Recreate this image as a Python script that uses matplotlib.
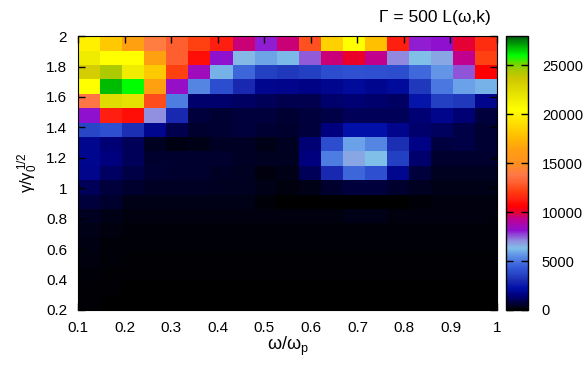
import matplotlib
matplotlib.use('Agg')
import matplotlib.pyplot as plt
import numpy as np
from matplotlib.colors import LinearSegmentedColormap, Normalize

plt.rcParams['font.family'] = ['Liberation Sans', 'DejaVu Sans']
plt.rcParams['mathtext.fontset'] = 'custom'
plt.rcParams['mathtext.rm'] = 'Liberation Sans'
plt.rcParams['mathtext.it'] = 'Liberation Sans'
plt.rcParams['mathtext.default'] = 'regular'

# grid: 19 x 19 cells spanning omega/omega_p in [0.1, 1], gamma in [0.2, 2]
x_edges = np.linspace(0.1, 1.0, 20)
y_edges = np.linspace(0.2, 2.0, 20)

# L(omega, k) values, rows listed from the top (gamma ~ 2) downwards
rows_top_down = [
    [19800, 18200, 16500, 14000, 13000, 12200, 11300, 9500, 8000, 9500, 12600, 18500, 20500, 17800, 11300, 8000, 8100, 10000, 11700],
    [21500, 20500, 20500, 16500, 13000, 10900, 8100, 6400, 5900, 6200, 7500, 9500, 10100, 9300, 7100, 6300, 6700, 9300, 12200],
    [23300, 24400, 21500, 18200, 12200, 8500, 6100, 4600, 3500, 3300, 3500, 3900, 4100, 4000, 3900, 4700, 5600, 7600, 10600],
    [20500, 26800, 26000, 16500, 8300, 5300, 3900, 2900, 1800, 1700, 1600, 1800, 2000, 1800, 2000, 3300, 5000, 5800, 6100],
    [13700, 22500, 22200, 12500, 5100, 1300, 1300, 1200, 1050, 950, 950, 1300, 1400, 1300, 1200, 2400, 3500, 3300, 1700],
    [8100, 11300, 10900, 7000, 2900, 750, 650, 750, 750, 650, 750, 850, 1050, 1050, 1050, 1400, 1700, 1400, 750],
    [3700, 4000, 3100, 1800, 950, 570, 650, 750, 650, 570, 750, 1500, 2200, 2200, 1700, 1300, 1130, 850, 650],
    [1800, 1400, 1050, 400, 250, 300, 480, 480, 300, 400, 1400, 3900, 5800, 5300, 3100, 1600, 800, 850, 650],
    [1800, 1500, 1050, 570, 570, 570, 570, 480, 400, 400, 1500, 5100, 6700, 6300, 3500, 1300, 570, 570, 570],
    [1700, 1200, 850, 650, 570, 570, 480, 400, 200, 300, 1050, 2900, 4600, 4000, 1800, 750, 400, 400, 400],
    [1050, 750, 570, 480, 480, 480, 400, 400, 300, 200, 300, 570, 750, 750, 570, 400, 300, 300, 300],
    [750, 570, 300, 300, 300, 300, 300, 300, 120, 50, 50, 50, 50, 50, 50, 120, 200, 200, 200],
    [400, 300, 200, 200, 200, 200, 200, 200, 200, 200, 200, 200, 300, 300, 200, 200, 200, 200, 200],
    [300, 200, 150, 150, 150, 150, 150, 150, 150, 150, 150, 150, 150, 150, 150, 150, 150, 150, 150],
    [250, 150, 120, 120, 120, 120, 120, 120, 120, 120, 120, 120, 120, 120, 120, 120, 120, 120, 120],
    [200, 150, 100, 100, 100, 100, 100, 100, 100, 100, 100, 100, 100, 100, 100, 100, 100, 100, 100],
    [150, 100, 80, 80, 80, 80, 80, 80, 80, 80, 80, 80, 80, 80, 80, 80, 80, 80, 80],
    [100, 80, 50, 50, 50, 50, 50, 50, 50, 50, 50, 50, 50, 50, 50, 50, 50, 50, 50],
    [80, 50, 30, 30, 30, 30, 30, 30, 30, 30, 30, 30, 30, 30, 30, 30, 30, 30, 30],
]
z = np.array(rows_top_down[::-1], dtype=float)

x_ticks = [0.1, 0.2, 0.3, 0.4, 0.5, 0.6, 0.7, 0.8, 0.9, 1.0]
x_ticklabels = ['0.1', '0.2', '0.3', '0.4', '0.5', '0.6', '0.7', '0.8', '0.9', '1']
y_ticks = [0.2, 0.4, 0.6, 0.8, 1.0, 1.2, 1.4, 1.6, 1.8, 2.0]
y_ticklabels = ['0.2', '0.4', '0.6', '0.8', '1', '1.2', '1.4', '1.6', '1.8', '2']
cb_ticks = [0, 5000, 10000, 15000, 20000, 25000]

vmax = 28000.
nodes = [
    (0, '#000000'), (1500, '#000080'), (2200, '#0010a8'), (2900, '#1828b0'),
    (3700, '#2848c8'), (4300, '#3458d8'), (5000, '#4a78e0'), (5800, '#6aa0e8'),
    (6300, '#80c0e8'), (7000, '#9090e0'), (7600, '#9050d8'), (8100, '#9010d0'),
    (9300, '#c00090'), (10000, '#e80030'), (10600, '#ff0000'), (11300, '#ff2010'),
    (12200, '#ff4010'), (13000, '#ff6030'), (13800, '#ff7848'), (15000, '#ff9020'),
    (16500, '#ffa010'), (17800, '#ffc000'), (18800, '#ffd800'), (20500, '#ffff00'),
    (22000, '#e8e400'), (23600, '#d0c800'), (24400, '#b0c800'), (25200, '#70d800'),
    (26000, '#00ff00'), (26800, '#00c000'), (28000, '#005a10'),
]
cmap = LinearSegmentedColormap.from_list('gp', [(v / vmax, c) for v, c in nodes], N=512)

fig = plt.figure(figsize=(5.84, 3.65), dpi=100)
ax = fig.add_axes([0.134, 0.151, 0.717, 0.750])
cax = fig.add_axes([0.866, 0.151, 0.038, 0.750])

mesh = ax.pcolormesh(x_edges, y_edges, z, cmap=cmap, norm=Normalize(0, vmax))
ax.set_xlim(0.1, 1.0)
ax.set_ylim(0.2, 2.0)
ax.set_xticks(x_ticks)
ax.set_xticklabels(x_ticklabels)
ax.set_yticks(y_ticks)
ax.set_yticklabels(y_ticklabels)
ax.tick_params(direction='in', top=True, right=True, length=5, width=1, labelsize=11, pad=8)
ax.set_xlabel(r'$\omega/\omega_p$', fontsize=13, labelpad=0)
ax.set_ylabel(r'$\gamma/\gamma_0^{\,1/2}$', fontsize=12, labelpad=4)

cb = fig.colorbar(mesh, cax=cax)
cb.set_ticks(cb_ticks)
cb.ax.tick_params(direction='in', left=True, right=True, length=5, width=1, labelsize=10.5, pad=10)
cb.outline.set_linewidth(1)

fig.text(0.745, 0.953, 'Γ = 500 L(ω,k)', fontsize=12.5, ha='center', va='center')

fig.savefig('out.png', dpi=100)
